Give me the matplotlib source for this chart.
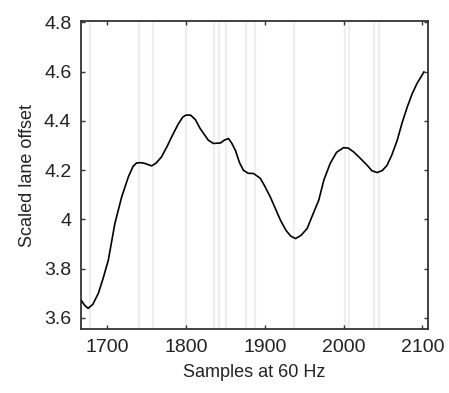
import matplotlib
matplotlib.use('Agg')
import matplotlib.pyplot as plt
from matplotlib.ticker import FuncFormatter

# curve
samples = [1667, 1672, 1676, 1682, 1689, 1695, 1701.6, 1710, 1718.5, 1727, 1733, 1737.6,
           1743, 1748, 1756.6, 1762, 1769, 1776, 1782, 1790, 1796, 1800, 1806, 1812,
           1818, 1828.5, 1835, 1843.8, 1849, 1854, 1858, 1862.8, 1868, 1873, 1879, 1886,
           1894.5, 1900, 1907, 1914, 1920, 1927, 1933, 1939, 1946, 1953.8, 1961, 1968.5,
           1975, 1983, 1991, 2000, 2006, 2013, 2022, 2030, 2036, 2042.6, 2049, 2055,
           2061, 2068, 2074, 2080.7, 2087, 2093, 2101.8]
offset = [3.672, 3.650, 3.639, 3.655, 3.70, 3.76, 3.834, 3.984, 4.09, 4.172, 4.215, 4.229,
          4.230, 4.227, 4.217, 4.228, 4.253, 4.295, 4.335, 4.385, 4.415, 4.423, 4.423, 4.405,
          4.369, 4.321, 4.308, 4.310, 4.322, 4.328, 4.310, 4.28, 4.23, 4.199, 4.187, 4.186,
          4.166, 4.135, 4.091, 4.04, 3.996, 3.955, 3.932, 3.922, 3.935, 3.963, 4.02, 4.078,
          4.16, 4.227, 4.272, 4.291, 4.289, 4.273, 4.245, 4.219, 4.197, 4.19, 4.198, 4.219,
          4.26, 4.321, 4.39, 4.456, 4.51, 4.551, 4.598]

# light vertical marker lines
markers = [1678.8, 1741, 1758.4, 1800.6, 1836, 1841.6, 1851, 1876.8, 1888.2,
           1936.8, 2001.5, 2006.6, 2038.3, 2044.7]

xticks = [1700, 1800, 1900, 2000, 2100]
yticks = [3.6, 3.8, 4.0, 4.2, 4.4, 4.6, 4.8]

plt.rcParams['font.family'] = ['Liberation Sans', 'DejaVu Sans']
txt = '#222222'

fig = plt.figure(figsize=(4.49, 3.93), dpi=100)
ax = fig.add_axes([0.1804, 0.1628, 0.7728, 0.7838])

for m in markers:
    ax.axvline(m, color='#efefef', lw=1.6, zorder=1)
ax.plot(samples, offset, color='black', lw=1.2, zorder=3)

ax.set_xlim(1667, 2107)
ax.set_ylim(3.555, 4.805)
ax.set_xticks(xticks)
ax.set_yticks(yticks)
ax.yaxis.set_major_formatter(FuncFormatter(lambda v, p: '%g' % v))
ax.tick_params(direction='in', length=3, width=1, top=True, right=True,
               labelsize=14, labelcolor=txt, color='#333333', pad=7)
for s in ax.spines.values():
    s.set_color('#333333')
    s.set_linewidth(1.3)

ax.set_xlabel('Samples at 60 Hz', fontsize=13, color=txt, labelpad=6)
ax.set_ylabel('Scaled lane offset', fontsize=13, color=txt, labelpad=6)

fig.savefig('out.png', dpi=100)
